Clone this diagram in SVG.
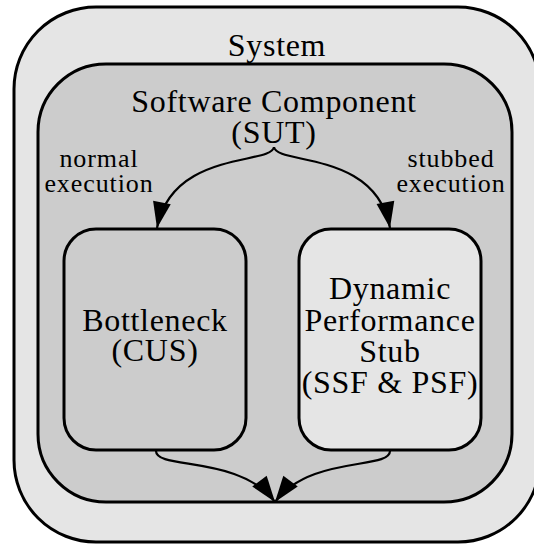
<svg xmlns="http://www.w3.org/2000/svg" width="534" height="545" viewBox="0 0 534 545">
<style>
  .box { stroke: #000; stroke-width: 3; }
  .light { fill: #e5e5e5; }
  .mid { fill: #cccccc; }
  .lbl { font-family: "Liberation Serif", "Times New Roman", serif; font-size: 32px; letter-spacing: 0.7px; fill: #000; text-anchor: middle; }
  .small { font-family: "Liberation Serif", "Times New Roman", serif; font-size: 26px; letter-spacing: 0.9px; fill: #000; text-anchor: middle; }
  .edge { fill: none; stroke: #000; stroke-width: 2.2; marker-end: url(#arrow); }
</style>
<defs>
  <marker id="arrow" markerUnits="userSpaceOnUse" viewBox="-27 -10 28 20" refX="0" refY="0" markerWidth="28" markerHeight="20" orient="auto">
    <path d="M0,0 L-26,-9 L-26,9 Z" fill="#000"/>
  </marker>
</defs>
<rect width="534" height="545" fill="#fff"/>
<g id="system">
  <rect class="box light" x="14" y="7" width="526" height="535" rx="82" ry="82"/>
  <text class="lbl" x="277" y="56">System</text>
</g>
<g id="sut">
  <rect class="box mid" x="38" y="64" width="474" height="438" rx="68" ry="68"/>
  <text class="lbl" x="274" y="112">Software Component</text>
  <text class="lbl" x="274" y="143">(SUT)</text>
</g>
<g id="bottleneck">
  <rect class="box mid" x="64" y="229" width="182" height="221" rx="32" ry="32"/>
  <text class="lbl" x="155" y="331">Bottleneck</text>
  <text class="lbl" x="155" y="361">(CUS)</text>
</g>
<g id="stub">
  <rect class="box light" x="299" y="229" width="182" height="221" rx="32" ry="32"/>
  <text class="lbl" x="390" y="299">Dynamic</text>
  <text class="lbl" x="390" y="331">Performance</text>
  <text class="lbl" x="390" y="362">Stub</text>
  <text class="lbl" x="390" y="393">(SSF &amp; PSF)</text>
</g>
<g id="connectors">
  <path class="edge" d="M274,147 C272,165 172,150 157,228"/>
  <path class="edge" d="M274,147 C276,165 376,150 390,228"/>
  <path class="edge" d="M156,451 C156,470 240,455 275,502"/>
  <path class="edge" d="M390,451 C390,470 310,455 275,502"/>
  <text class="small" x="99" y="167">normal</text>
  <text class="small" x="99" y="192">execution</text>
  <text class="small" x="451" y="167">stubbed</text>
  <text class="small" x="451" y="192">execution</text>
</g>
</svg>
